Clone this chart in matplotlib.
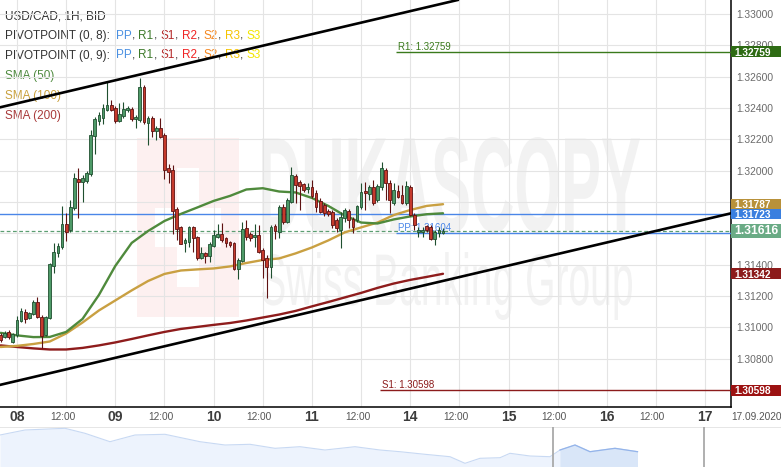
import matplotlib
matplotlib.use("Agg")
import matplotlib.pyplot as plt
import numpy as np
from matplotlib import ft2font
from matplotlib.font_manager import findfont
from matplotlib.patches import Rectangle, PathPatch
from matplotlib.textpath import TextPath
from matplotlib.font_manager import FontProperties
from matplotlib.transforms import Affine2D, blended_transform_factory

# ---------------- data (USD/CAD 1H) ----------------
open_ = [1.30952, 1.30941, 1.30973, 1.30909, 1.30952, 1.31041, 1.31100, 1.31058, 1.31084, 1.31160,
         1.31069, 1.30952, 1.31058, 1.31394, 1.31473, 1.31511, 1.31658, 1.31622, 1.31762, 1.31947,
         1.31930, 1.31934, 1.31977, 1.32223, 1.32319, 1.32334, 1.32389, 1.32419, 1.32398, 1.32319,
         1.32351, 1.32387, 1.32392, 1.32328, 1.32323, 1.32534, 1.32302, 1.32334, 1.32253, 1.32270,
         1.32228, 1.32015, 1.32004, 1.31754, 1.31639, 1.31537, 1.31547, 1.31639, 1.31575, 1.31441,
         1.31473, 1.31456, 1.31521, 1.31579, 1.31596, 1.31569, 1.31547, 1.31537, 1.31371, 1.31426,
         1.31632, 1.31596, 1.31575, 1.31590, 1.31494, 1.31445, 1.31387, 1.31647, 1.31611, 1.31770,
         1.31675, 1.31802, 1.31966, 1.31926, 1.31913, 1.31881, 1.31894, 1.31860, 1.31809, 1.31781,
         1.31745, 1.31739, 1.31686, 1.31622, 1.31696, 1.31743, 1.31690, 1.31686, 1.31766, 1.31870,
         1.31851, 1.31896, 1.31813, 1.31896, 1.32004, 1.31922, 1.31792, 1.31872, 1.31845, 1.31792,
         1.31898, 1.31717, 1.31611, 1.31611, 1.31647, 1.31643, 1.31562, 1.31604, 1.31601]
high_ = [1.30964, 1.30977, 1.30984, 1.30964, 1.31073, 1.31124, 1.31118, 1.31098, 1.31175, 1.31192,
         1.31079, 1.31073, 1.31411, 1.31537, 1.31537, 1.31777, 1.31728, 1.31813, 1.31985, 1.32017,
         1.31973, 1.31998, 1.32260, 1.32343, 1.32376, 1.32426, 1.32568, 1.32451, 1.32413, 1.32432,
         1.32440, 1.32413, 1.32406, 1.32355, 1.32589, 1.32547, 1.32349, 1.32349, 1.32285, 1.32336,
         1.32241, 1.32043, 1.32036, 1.31768, 1.31647, 1.31571, 1.31647, 1.31647, 1.31583, 1.31515,
         1.31481, 1.31545, 1.31622, 1.31660, 1.31664, 1.31577, 1.31553, 1.31545, 1.31443, 1.31675,
         1.31686, 1.31609, 1.31660, 1.31654, 1.31507, 1.31462, 1.31654, 1.31660, 1.31781, 1.31786,
         1.31826, 1.32026, 1.31979, 1.31941, 1.31922, 1.31920, 1.31941, 1.31877, 1.31826, 1.31794,
         1.31756, 1.31749, 1.31698, 1.31736, 1.31762, 1.31756, 1.31705, 1.31781, 1.31920, 1.31926,
         1.31909, 1.31941, 1.31915, 1.32055, 1.32017, 1.31941, 1.31920, 1.31909, 1.31909, 1.31936,
         1.31909, 1.31730, 1.31641, 1.31643, 1.31654, 1.31654, 1.31622, 1.31643, 1.31634]
low_ = [1.30907, 1.30933, 1.30926, 1.30901, 1.30939, 1.31035, 1.31026, 1.31054, 1.31079, 1.31060,
        1.30867, 1.30945, 1.31054, 1.31345, 1.31447, 1.31500, 1.31553, 1.31609, 1.31749, 1.31698,
        1.31802, 1.31922, 1.31966, 1.32108, 1.32292, 1.32296, 1.32381, 1.32381, 1.32302, 1.32311,
        1.32338, 1.32374, 1.32317, 1.32270, 1.32311, 1.32298, 1.32164, 1.32217, 1.32196, 1.32209,
        1.31945, 1.31923, 1.31596, 1.31558, 1.31530, 1.31483, 1.31515, 1.31483, 1.31430, 1.31437,
        1.31413, 1.31419, 1.31513, 1.31571, 1.31547, 1.31515, 1.31515, 1.31366, 1.31307, 1.31417,
        1.31558, 1.31553, 1.31515, 1.31475, 1.31313, 1.31186, 1.31315, 1.31564, 1.31571, 1.31660,
        1.31666, 1.31794, 1.31792, 1.31749, 1.31864, 1.31856, 1.31826, 1.31739, 1.31730, 1.31711,
        1.31711, 1.31634, 1.31611, 1.31505, 1.31673, 1.31634, 1.31603, 1.31673, 1.31756, 1.31749,
        1.31813, 1.31781, 1.31800, 1.31877, 1.31813, 1.31730, 1.31781, 1.31826, 1.31787, 1.31781,
        1.31711, 1.31622, 1.31577, 1.31579, 1.31609, 1.31558, 1.31526, 1.31579, 1.31596]
close_ = [1.30920, 1.30963, 1.30941, 1.30958, 1.31047, 1.31105, 1.31052, 1.31094, 1.31160, 1.31069,
          1.30947, 1.31065, 1.31405, 1.31479, 1.31520, 1.31660, 1.31607, 1.31766, 1.31953, 1.31930,
          1.31955, 1.31983, 1.32228, 1.32330, 1.32355, 1.32398, 1.32419, 1.32389, 1.32319, 1.32360,
          1.32394, 1.32398, 1.32328, 1.32341, 1.32536, 1.32311, 1.32334, 1.32253, 1.32270, 1.32217,
          1.32004, 1.31994, 1.31745, 1.31628, 1.31532, 1.31558, 1.31639, 1.31569, 1.31441, 1.31473,
          1.31456, 1.31530, 1.31590, 1.31596, 1.31558, 1.31537, 1.31526, 1.31371, 1.31430, 1.31628,
          1.31579, 1.31569, 1.31590, 1.31483, 1.31430, 1.31387, 1.31643, 1.31617, 1.31770, 1.31671,
          1.31813, 1.31973, 1.31909, 1.31902, 1.31877, 1.31898, 1.31839, 1.31770, 1.31739, 1.31728,
          1.31724, 1.31654, 1.31632, 1.31707, 1.31749, 1.31686, 1.31643, 1.31775, 1.31866, 1.31856,
          1.31896, 1.31794, 1.31902, 1.32017, 1.31922, 1.31813, 1.31877, 1.31834, 1.31796, 1.31902,
          1.31717, 1.31654, 1.31622, 1.31622, 1.31622, 1.31562, 1.31611, 1.31622, 1.31616]

# SMA values read at every 4th candle
sma_idx = [0, 4, 8, 12, 16, 20, 24, 28, 32, 36, 40, 44, 48, 52, 56, 60, 64, 68, 72, 76,
           80, 84, 88, 92, 96, 100, 104, 108]
sma50 = [1.30965, 1.30949, 1.30938, 1.30939, 1.30971, 1.31054, 1.31207, 1.31392, 1.31539, 1.31615,
         1.31679, 1.31724, 1.31765, 1.31807, 1.31839, 1.31880, 1.31888, 1.31867, 1.31861, 1.31826,
         1.31775, 1.31714, 1.31669, 1.31663, 1.31689, 1.31708, 1.31722, 1.31728]
sma100 = [1.30875, 1.30882, 1.30894, 1.30910, 1.30961, 1.31031, 1.31108, 1.31172, 1.31236, 1.31296,
          1.31341, 1.31363, 1.31370, 1.31376, 1.31389, 1.31411, 1.31430, 1.31440, 1.31472, 1.31510,
          1.31555, 1.31606, 1.31638, 1.31669, 1.31717, 1.31749, 1.31775, 1.31786]
sma200 = [1.30885, 1.30875, 1.30866, 1.30859, 1.30859, 1.30869, 1.30885, 1.30904, 1.30926, 1.30949,
          1.30971, 1.30990, 1.31003, 1.31016, 1.31028, 1.31044, 1.31063, 1.31082, 1.31105, 1.31134,
          1.31162, 1.31191, 1.31220, 1.31252, 1.31280, 1.31303, 1.31322, 1.31342]

# trend lines: (candle index, price) anchor pairs
upper_trend = [(0, 1.32405), (100, 1.33018)]
lower_trend = [(0, 1.30634), (178, 1.31726)]

# pivot levels
pivot_R1, pivot_PP, pivot_S1 = 1.32759, 1.31604, 1.30598
blue_level = 1.31723
last_price = 1.31616

# x axis labels (day starts every 24 candles, offset 4)
day_labels = ["08", "09", "10", "11", "14", "15", "16", "17"]
y_ticks = [1.308, 1.310, 1.312, 1.314, 1.316, 1.318, 1.320, 1.322, 1.324, 1.326, 1.328, 1.330]
hidden_ticks = [1.316, 1.318]   # covered by price tags in the reference

# right-side price tags (value, colour)
tags = [(1.32759, "#2e6b14"), (1.31787, "#b8913a"), (1.31723, "#3a7fdf"),
        (1.31342, "#8c1b1b"), (1.30598, "#9c1212")]

# navigator (overview) series
nav_t = [0, 25, 65, 85, 110, 135, 165, 200, 225, 250, 275, 300, 325, 355, 380, 400, 425, 450,
         465, 480, 500, 510, 530, 550, 560, 575, 590, 615, 637.5]
nav_v = [32, 37, 38.7, 33.7, 25.3, 32, 32.7, 25.3, 22, 22.7, 18.7, 20.3, 17, 20.3, 17, 15.3, 12.7,
         10.3, 3.7, 8.7, 9.3, 13.7, 11, 10.3, 17, 22, 15.3, 18.7, 15.3]

# ---------------- figure ----------------
W, H = 781, 467
fig = plt.figure(figsize=(W / 100, H / 100), dpi=100)
fig.patch.set_facecolor("white")

bg = fig.add_axes([0, 0, 1, 1], zorder=0)
bg.set_xlim(0, W)
bg.set_ylim(H, 0)
bg.axis("off")

# watermark
def fit_text(s, x0, y0, x1, y1, color, weight="bold"):
    fp = FontProperties(family="Liberation Sans", weight=weight)
    tp = TextPath((0, 0), s, size=100, prop=fp)
    bb = tp.get_extents()
    sx = (x1 - x0) / bb.width
    sy = (y1 - y0) / bb.height
    tr = Affine2D().translate(-bb.x0, -bb.y0).scale(sx, -sy).translate(x0, y1)
    bg.add_patch(PathPatch(tr.transform_path(tp), fc=color, ec="none"))

bg.add_patch(Rectangle((137, 138), 102, 179, fc="#fdf0f0", ec="none"))
bg.add_patch(Rectangle((177, 168), 22, 119, fc="white", ec="none"))
bg.add_patch(Rectangle((155, 208), 66, 39, fc="white", ec="none"))
fit_text("DUKASCOPY", 262, 137, 640, 233, "#f2f2f2")
fit_text("Swiss Banking Group", 262, 252, 632, 320, "#f2f2f2", weight="normal")

# main axes
AX_W, AX_H = 731, 407
ax = fig.add_axes([0, (H - AX_H) / H, AX_W / W, AX_H / H], zorder=2)
ax.set_facecolor("none")
x_left = -0.146
x_right = 178.3
ax.set_xlim(x_left, x_right)
ax.set_ylim(1.30492, 1.33089)
ppx = (1.33089 - 1.30492) / AX_H  # price per pixel

for s in ["top", "left"]:
    ax.spines[s].set_visible(False)
ax.spines["right"].set_color("black")
ax.spines["bottom"].set_color("black")
ax.spines["right"].set_linewidth(1.1)
ax.spines["bottom"].set_linewidth(1.1)

ax.yaxis.tick_right()
ax.set_yticks(y_ticks)
ax.set_yticklabels(["" if v in hidden_ticks else f"{v:.5f}" for v in y_ticks], fontsize=7.4,
                   color="#6a6a6a", family="Liberation Sans")
ax.tick_params(axis="y", length=0, pad=4)

day_pos = [4 + 24 * k for k in range(len(day_labels))]
half_pos = [16 + 24 * k for k in range(len(day_labels) - 1)]
ax.set_xticks(day_pos)
ax.set_xticks(half_pos, minor=True)
ax.set_xticklabels([])
ax.tick_params(axis="x", which="both", length=0, labelbottom=False)
ax.grid(True, which="both", color="#e4e4e4", lw=0.8, zorder=0)
ax.set_axisbelow(True)

trans_xlab = blended_transform_factory(ax.transData, ax.transAxes)
for p, lab in zip(day_pos, day_labels):
    ax.text(p, -0.025, lab, transform=trans_xlab, ha="center", va="center", fontsize=10,
            fontweight="bold", color="#3c3c3c",
            family=["Liberation Sans Narrow", "Liberation Sans"], clip_on=False)
for p in half_pos:
    ax.text(p - 0.9, -0.025, "12:00", transform=trans_xlab, ha="center", va="center",
            fontsize=7.3, color="#555555",
            family=["Liberation Sans Narrow", "Liberation Sans"], clip_on=False)
ax.text(1 + 26 / AX_W, -0.025, "17.09.2020", transform=ax.transAxes, ha="center", va="center",
        fontsize=7.3, color="#555555", family=["Liberation Sans Narrow", "Liberation Sans"],
        clip_on=False)

# horizontal levels
ax.axhline(blue_level, color="#4a86e8", lw=1.0, zorder=3)
ax.axhline(last_price, color="#5c9e72", lw=0.9, ls=(0, (3, 2)), zorder=3)
piv_start = 96.5
ax.hlines(pivot_R1, piv_start, x_right, color="#3a7a1c", lw=1.0, zorder=3)
ax.hlines(pivot_PP, piv_start, x_right, color="#4a86e8", lw=1.0, zorder=3)
ax.hlines(pivot_S1, 92.7, x_right, color="#8c1b1b", lw=1.0, zorder=3)
for xx, val, nm, col in [(piv_start + 0.4, pivot_R1, "R1", "#3a7a1c"),
                         (piv_start + 0.4, pivot_PP, "PP", "#4a86e8"),
                         (93.2, pivot_S1, "S1", "#8c1b1b")]:
    ax.text(xx, val + 2 * ppx, f"{nm}: {val:.5f}", fontsize=7, color=col, va="baseline",
            ha="left", family="Liberation Sans", zorder=4)

# SMAs
ax.plot(sma_idx, sma200, color="#8e1c1c", lw=1.7, zorder=5, solid_capstyle="round")
ax.plot(sma_idx, sma100, color="#c9a042", lw=1.7, zorder=5, solid_capstyle="round")
ax.plot(sma_idx, sma50, color="#4f8a3c", lw=1.7, zorder=5, solid_capstyle="round")

# candles
idx = np.arange(len(open_))
bw = 0.68
for i in idx:
    o, h, l, c = open_[i], high_[i], low_[i], close_[i]
    up = c >= o
    body_c = "#4e9a68" if up else "#c53a2c"
    edge_c = "#1f4f2f" if up else "#5e1212"
    ax.vlines(i, l, h, color=edge_c, lw=0.8, zorder=6)
    lo, hi = min(o, c), max(o, c)
    ax.add_patch(Rectangle((i - bw / 2, lo), bw, max(hi - lo, 0.00002), fc=body_c, ec=edge_c,
                           lw=0.6, zorder=7))

# trend lines
ax.axline(upper_trend[0], upper_trend[1], color="black", lw=1.9, zorder=8)
ax.axline(lower_trend[0], lower_trend[1], color="black", lw=1.9, zorder=8)

# right price tags
trans_tag = blended_transform_factory(ax.transAxes, ax.transData)
tag_w = 50 / AX_W
for val, col in tags:
    hh = 10.6 * ppx
    ax.add_patch(Rectangle((1.0, val - hh / 2), tag_w, hh, transform=trans_tag, fc=col,
                           ec="none", clip_on=False, zorder=10))
    ax.text(1 + 3 / AX_W, val - 0.9 * ppx, f"{val:.5f}", transform=trans_tag, color="white",
            fontsize=7.3, fontweight="bold", va="center", ha="left", family="Liberation Sans",
            clip_on=False, zorder=11)
hh = 13.5 * ppx
ax.add_patch(Rectangle((1.0, last_price - hh / 2), tag_w, hh, transform=trans_tag, fc="#6aab85",
                       ec="none", clip_on=False, zorder=12))
ax.text(1 + 3 / AX_W, last_price, f"{last_price:.5f}", transform=trans_tag, color="white",
        fontsize=8.7, fontweight="bold", va="center", ha="left", family="Liberation Sans",
        clip_on=False, zorder=13)

# legend text (multi coloured), placed using glyph advance widths
LEG_SIZE = 8.5
LEG_FONT = dict(fontsize=LEG_SIZE, family="Liberation Sans")

def make_adv(size):
    try:
        fpath = findfont(FontProperties(family="Liberation Sans"))
        f = ft2font.FT2Font(fpath, hinting_factor=1)
        f.set_size(size, 100)
        try:
            flag = ft2font.LoadFlags.NO_HINTING
        except AttributeError:
            flag = ft2font.LOAD_NO_HINTING

        def adv(s):
            return sum(f.load_char(ord(ch), flags=flag).horiAdvance for ch in s) / 64.0
        adv("A")
        return adv
    except Exception:
        renderer = fig.canvas.get_renderer()

        def adv(s):
            t = bg.text(0, 0, s + "|", **LEG_FONT)
            w1 = t.get_window_extent(renderer).width
            t.remove()
            t = bg.text(0, 0, "|", **LEG_FONT)
            w2 = t.get_window_extent(renderer).width
            t.remove()
            return w1 - w2 + 1.0
        return adv

adv = make_adv(LEG_SIZE)

def pieces_line(y, pieces):
    prefix = ""
    for s, c in pieces:
        x = 5 + (adv(prefix) if prefix else 0)
        if s.strip():
            bg.text(x, y, s, color=c, va="center", ha="left", **LEG_FONT)
        prefix += s

dark = "#333333"
piv_cols = [("PP", "#4a90e2"), ("R1", "#3d7a2a"), ("S1", "#b52a2a"), ("R2", "#f02424"),
            ("S2", "#f5871f"), ("R3", "#f5c400"), ("S3", "#f2e600")]

def pivot_line(y, title):
    pcs = [(title, dark)]
    for k, (nm, col) in enumerate(piv_cols):
        pcs.append((nm, col))
        if k < len(piv_cols) - 1:
            pcs.append((",", dark))
            pcs.append((" ", dark))
    pieces_line(y, pcs)

pieces_line(16.5, [("USD/CAD, 1H, BID", dark)])
pivot_line(36, "PIVOTPOINT (0, 8): ")
pivot_line(55.5, "PIVOTPOINT (0, 9): ")
pieces_line(76, [("SMA (50)", "#4e8a3e")])
pieces_line(96.5, [("SMA (100)", "#c9a03c")])
pieces_line(116.5, [("SMA (200)", "#a83a3a")])

# navigator
nav = fig.add_axes([0, 0, 1, 40 / H], zorder=1)
nav.set_xlim(0, W)
nav.set_ylim(0, 40)
nav.axis("off")
nav.axhline(40, color="#e2e2e2", lw=1.2)
nt = np.array(nav_t)
nv = np.array(nav_v)
nav.fill_between(nt, 0, nv, color="#edf3fd", lw=0)
nav.plot(nt, nv, color="#c8d9f3", lw=0.8)
sel = nt >= 552
nav.fill_between(nt[sel], 0, nv[sel], color="#d9e6f8", lw=0)
nav.plot(nt[sel], nv[sel], color="#94b4ea", lw=0.9)
nav.axvline(552.5, color="#a9a9a9", lw=1.3)
nav.axvline(704, color="#a9a9a9", lw=1.3)

fig.savefig("out.png", dpi=100)
